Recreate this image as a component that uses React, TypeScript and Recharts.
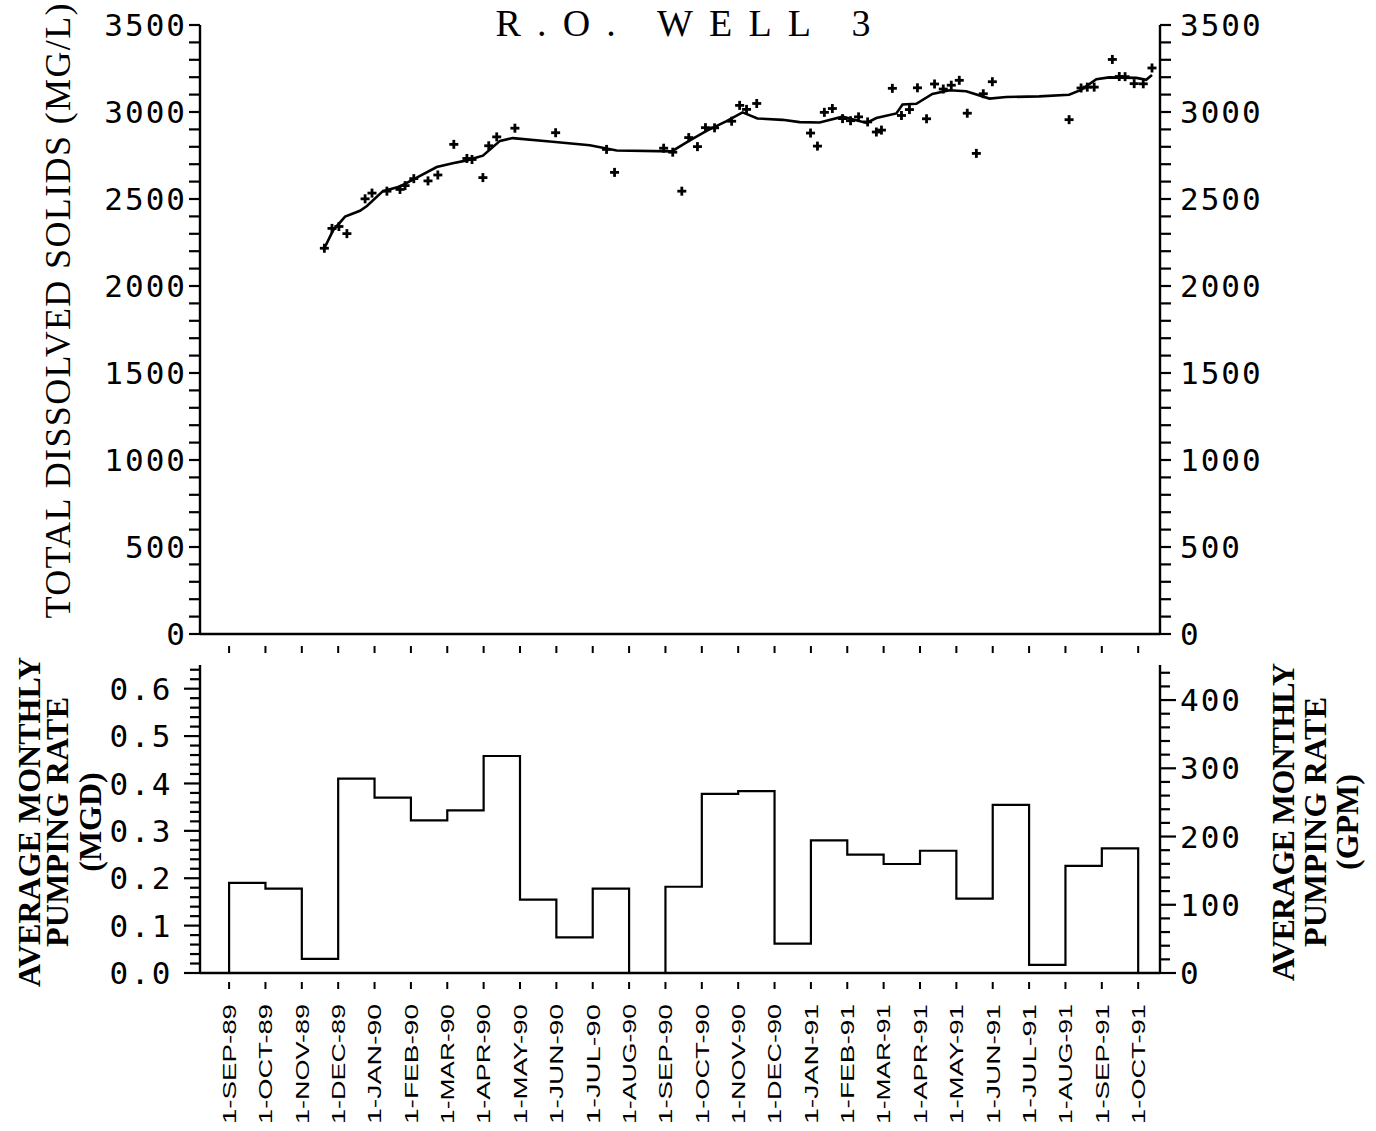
import React from "react";
import { ComposedChart, Line, Scatter, XAxis, YAxis } from "recharts";

// month ticks, 1-SEP-89 .. 1-OCT-91 (x = months since 1-SEP-89)
const monthLabels = [
  "1-SEP-89", "1-OCT-89", "1-NOV-89", "1-DEC-89", "1-JAN-90", "1-FEB-90",
  "1-MAR-90", "1-APR-90", "1-MAY-90", "1-JUN-90", "1-JUL-90", "1-AUG-90",
  "1-SEP-90", "1-OCT-90", "1-NOV-90", "1-DEC-90", "1-JAN-91", "1-FEB-91",
  "1-MAR-91", "1-APR-91", "1-MAY-91", "1-JUN-91", "1-JUL-91", "1-AUG-91",
  "1-SEP-91", "1-OCT-91",
];

// average monthly pumping rate (MGD), SEP-89 .. SEP-91
const pumpingMgd = [
  0.19, 0.178, 0.03, 0.41, 0.37, 0.322, 0.343, 0.458, 0.155, 0.075, 0.178, 0,
  0.182, 0.378, 0.384, 0.062, 0.28, 0.25, 0.23, 0.258, 0.157, 0.355, 0.017,
  0.226, 0.263,
];

// TDS samples
const tdsMonth = [
  2.62, 2.83, 3.02, 3.24, 3.74, 3.93, 4.34, 4.7, 4.84, 5.08, 5.47, 5.74, 6.18,
  6.54, 6.68, 6.98, 7.14, 7.36, 7.86, 8.98, 10.38, 10.6, 11.95, 12.2, 12.45,
  12.64, 12.88, 13.1, 13.35, 13.82, 14.04, 14.23, 14.51, 15.99, 16.18, 16.37,
  16.59, 16.87, 17.09, 17.31, 17.56, 17.8, 17.94, 18.24, 18.49, 18.71, 18.93,
  19.18, 19.4, 19.64, 19.86, 20.08, 20.3, 20.55, 20.74, 20.99, 23.1, 23.43,
  23.6, 23.79, 24.29, 24.48, 24.64, 24.89, 25.14, 25.38,
];
const tdsValue = [
  2217, 2331, 2342, 2301, 2501, 2534, 2545, 2555, 2577, 2617, 2604, 2638, 2814,
  2733, 2727, 2623, 2806, 2857, 2907, 2881, 2785, 2653, 2792, 2769, 2545, 2853,
  2801, 2910, 2909, 2947, 3038, 3015, 3049, 2879, 2804, 2998, 3020, 2962, 2950,
  2972, 2943, 2885, 2896, 3136, 2980, 3014, 3139, 2961, 3161, 3132, 3154, 3182,
  2993, 2762, 3105, 3174, 2956, 3138, 3143, 3143, 3302, 3204, 3203, 3163, 3162,
  3253,
];

// smoothed TDS curve
const trendMonth = [
  2.62, 2.86, 3.19, 3.6, 3.79, 4.23, 4.7, 5.16, 5.71, 6.15, 6.54, 6.98, 7.45,
  7.8, 8.82, 9.92, 10.66, 12.17, 12.66, 13.13, 13.68, 14.12, 14.53, 15.22,
  15.69, 16.24, 16.87, 17.53, 17.8, 18.35, 18.52, 18.9, 19.34, 19.81, 20.27,
  20.91, 21.37, 22.28, 23.1, 23.43, 23.85, 24.2, 24.95, 25.22, 25.38,
];
const trendValue = [
  2217, 2320, 2399, 2432, 2460, 2545, 2572, 2623, 2684, 2706, 2722, 2749, 2834,
  2850, 2830, 2809, 2779, 2774, 2836, 2892, 2948, 2998, 2963, 2955, 2942, 2940,
  2973, 2937, 2965, 2992, 3043, 3047, 3104, 3125, 3119, 3077, 3086, 3090, 3099,
  3127, 3188, 3199, 3196, 3185, 3213,
];

const tdsMajor = [0, 500, 1000, 1500, 2000, 2500, 3000, 3500];
const mgdMajor = [0, 0.1, 0.2, 0.3, 0.4, 0.5, 0.6];
const gpmMajor = [0, 100, 200, 300, 400];

const GPM_PER_MGD = 694.44;
const MGD_MAX = 0.65;
const X_DOMAIN = [-0.8, 25.6];

const tdsTicks = Array.from({ length: 36 }, (_, i) => i * 100);
const mgdTicks = Array.from({ length: 33 }, (_, i) => +(i * 0.02).toFixed(2));
const gpmTicks = Array.from({ length: 23 }, (_, i) => i * 20);
const monthTicks = monthLabels.map((_, i) => i);

const tdsPoints = tdsMonth.map((m, i) => ({ m, v: tdsValue[i] }));
const trendPoints = trendMonth.map((m, i) => ({ m, v: trendValue[i] }));
const stepData = [
  { m: 0, q: 0 },
  ...pumpingMgd.map((q, i) => ({ m: i, q })),
  { m: pumpingMgd.length, q: 0 },
];

const MONO = "'DejaVu Sans Mono', monospace";
const SERIF = "'Liberation Serif', 'DejaVu Serif', serif";

const isIn = (list: number[], v: number) => list.some((t) => Math.abs(t - v) < 1e-6);

const YTick = (props: any) => {
  const { x, y, payload, side, majors, fmt, len, majorLen, gap, spacing } = props;
  const major = isIn(majors, payload.value);
  const dir = side === "left" ? -1 : 1;
  const l = major ? majorLen : len;
  return (
    <g>
      <line x1={x} x2={x + dir * l} y1={y} y2={y} stroke="#000" strokeWidth={2.2} />
      {major && (
        <text
          x={x + dir * gap}
          y={y}
          dy="0.36em"
          textAnchor={side === "left" ? "end" : "start"}
          fontFamily={MONO}
          fontSize={31}
          letterSpacing={spacing}
          fill="#000"
        >
          {fmt(payload.value)}
        </text>
      )}
    </g>
  );
};

const MonthMark = (props: any) => {
  const { x, y } = props;
  return <line x1={x} x2={x} y1={y + 12} y2={y + 19} stroke="#000" strokeWidth={2} />;
};

const MonthTick = (props: any) => {
  const { x, y, payload } = props;
  const ay = y + 31;
  return (
    <g>
      <line x1={x} x2={x} y1={y + 9} y2={y + 16} stroke="#000" strokeWidth={2} />
      <text
        x={x}
        y={ay}
        dy="0.36em"
        transform={`rotate(-90, ${x}, ${ay})`}
        textAnchor="end"
        fontFamily="'Liberation Sans', Arial, sans-serif"
        fontSize={19}
        textLength={120}
        lengthAdjust="spacingAndGlyphs"
        fill="#000"
      >
        {monthLabels[payload.value]}
      </text>
    </g>
  );
};

const PlusMark = (props: any) => {
  const { cx, cy } = props;
  if (cx == null || cy == null) return null;
  return (
    <g stroke="#000" strokeWidth={2.8}>
      <line x1={cx - 4.5} x2={cx + 4.5} y1={cy} y2={cy} />
      <line x1={cx} x2={cx} y1={cy - 4.5} y2={cy + 4.5} />
    </g>
  );
};

const fmtInt = (v: number) => String(v);
const fmtMgd = (v: number) => v.toFixed(1);

function TdsPanel() {
  return (
    <ComposedChart
      width={1376}
      height={660}
      margin={{ top: 25, right: 0, bottom: 0, left: 0 }}
    >
      <XAxis
        dataKey="m"
        type="number"
        domain={X_DOMAIN}
        ticks={monthTicks}
        interval={0}
        allowDataOverflow
        height={26}
        tickSize={0}
        tickMargin={0}
        axisLine={{ stroke: "#000", strokeWidth: 2.4 }}
        tickLine={false}
        tick={(p: any) => <MonthMark {...p} />}
      />
      <YAxis
        yAxisId="l"
        type="number"
        domain={[0, 3500]}
        ticks={tdsTicks}
        interval={0}
        allowDataOverflow
        width={200}
        tickSize={0}
        tickMargin={0}
        axisLine={{ stroke: "#000", strokeWidth: 2.4 }}
        tickLine={false}
        tick={(p: any) => (
          <YTick {...p} side="left" majors={tdsMajor} fmt={fmtInt} len={11} majorLen={11} gap={13} spacing={2} />
        )}
      />
      <YAxis
        yAxisId="r"
        orientation="right"
        type="number"
        domain={[0, 3500]}
        ticks={tdsTicks}
        interval={0}
        allowDataOverflow
        width={216}
        tickSize={0}
        tickMargin={0}
        axisLine={{ stroke: "#000", strokeWidth: 2.4 }}
        tickLine={false}
        tick={(p: any) => (
          <YTick {...p} side="right" majors={tdsMajor} fmt={fmtInt} len={11} majorLen={11} gap={20} spacing={2} />
        )}
      />
      <Line
        yAxisId="l"
        data={trendPoints}
        dataKey="v"
        type="linear"
        stroke="#000"
        strokeWidth={2.6}
        dot={false}
        isAnimationActive={false}
      />
      <Scatter
        yAxisId="l"
        data={tdsPoints}
        dataKey="v"
        shape={(p: any) => <PlusMark {...p} />}
        isAnimationActive={false}
      />
    </ComposedChart>
  );
}

function PumpingPanel() {
  return (
    <ComposedChart
      width={1376}
      height={491}
      margin={{ top: 25, right: 0, bottom: 0, left: 0 }}
      data={stepData}
    >
      <XAxis
        dataKey="m"
        type="number"
        domain={X_DOMAIN}
        ticks={monthTicks}
        interval={0}
        allowDataOverflow
        height={158}
        tickSize={0}
        tickMargin={0}
        axisLine={{ stroke: "#000", strokeWidth: 2.4 }}
        tickLine={false}
        tick={(p: any) => <MonthTick {...p} />}
      />
      <YAxis
        yAxisId="mgd"
        type="number"
        domain={[0, MGD_MAX]}
        ticks={mgdTicks}
        interval={0}
        allowDataOverflow
        width={200}
        tickSize={0}
        tickMargin={0}
        axisLine={{ stroke: "#000", strokeWidth: 2.4 }}
        tickLine={false}
        tick={(p: any) => (
          <YTick {...p} side="left" majors={mgdMajor} fmt={fmtMgd} len={10} majorLen={16} gap={27} spacing={2.5} />
        )}
      />
      <YAxis
        yAxisId="gpm"
        orientation="right"
        type="number"
        domain={[0, MGD_MAX * GPM_PER_MGD]}
        ticks={gpmTicks}
        interval={0}
        allowDataOverflow
        width={216}
        tickSize={0}
        tickMargin={0}
        axisLine={{ stroke: "#000", strokeWidth: 2.4 }}
        tickLine={false}
        tick={(p: any) => (
          <YTick {...p} side="right" majors={gpmMajor} fmt={fmtInt} len={10} majorLen={16} gap={20} spacing={2} />
        )}
      />
      <Line
        yAxisId="mgd"
        dataKey="q"
        type="stepAfter"
        stroke="#000"
        strokeWidth={2.2}
        dot={false}
        isAnimationActive={false}
      />
    </ComposedChart>
  );
}

function Titles() {
  const t: React.CSSProperties = { fontFamily: SERIF, fill: "#000" };
  return (
    <svg
      width={1376}
      height={1131}
      style={{ position: "absolute", left: 0, top: 0, pointerEvents: "none" }}
    >
      <text x={683} y={36} textAnchor="middle" fontSize={38} textLength={375} lengthAdjust="spacing" style={t}>
        R.O. WELL 3
      </text>
      <text
        x={57}
        y={311}
        dy="0.35em"
        transform="rotate(-90, 57, 311)"
        textAnchor="middle"
        fontSize={36}
        textLength={615}
        lengthAdjust="spacing"
        style={t}
      >
        TOTAL DISSOLVED SOLIDS (MG/L)
      </text>
      {[
        { x: 29, s: "AVERAGE MONTHLY", len: 330 },
        { x: 57, s: "PUMPING RATE", len: 250 },
        { x: 90, s: "(MGD)", len: 0 },
        { x: 1283, s: "AVERAGE MONTHLY", len: 318 },
        { x: 1315, s: "PUMPING RATE", len: 250 },
        { x: 1347, s: "(GPM)", len: 0 },
      ].map((r) => (
        <text
          key={r.x}
          x={r.x}
          y={822}
          dy="0.35em"
          transform={`rotate(-90, ${r.x}, 822)`}
          textAnchor="middle"
          fontSize={32}
          fontWeight="bold"
          textLength={r.len || undefined}
          lengthAdjust="spacing"
          style={t}
        >
          {r.s}
        </text>
      ))}
    </svg>
  );
}

export default function App() {
  return (
    <div
      style={{
        position: "absolute",
        left: 0,
        top: 0,
        width: 1376,
        height: 1131,
        background: "#fff",
        overflow: "hidden",
      }}
    >
      <div style={{ position: "absolute", left: 0, top: 0 }}>
        <TdsPanel />
      </div>
      <div style={{ position: "absolute", left: 0, top: 640 }}>
        <PumpingPanel />
      </div>
      <Titles />
    </div>
  );
}
